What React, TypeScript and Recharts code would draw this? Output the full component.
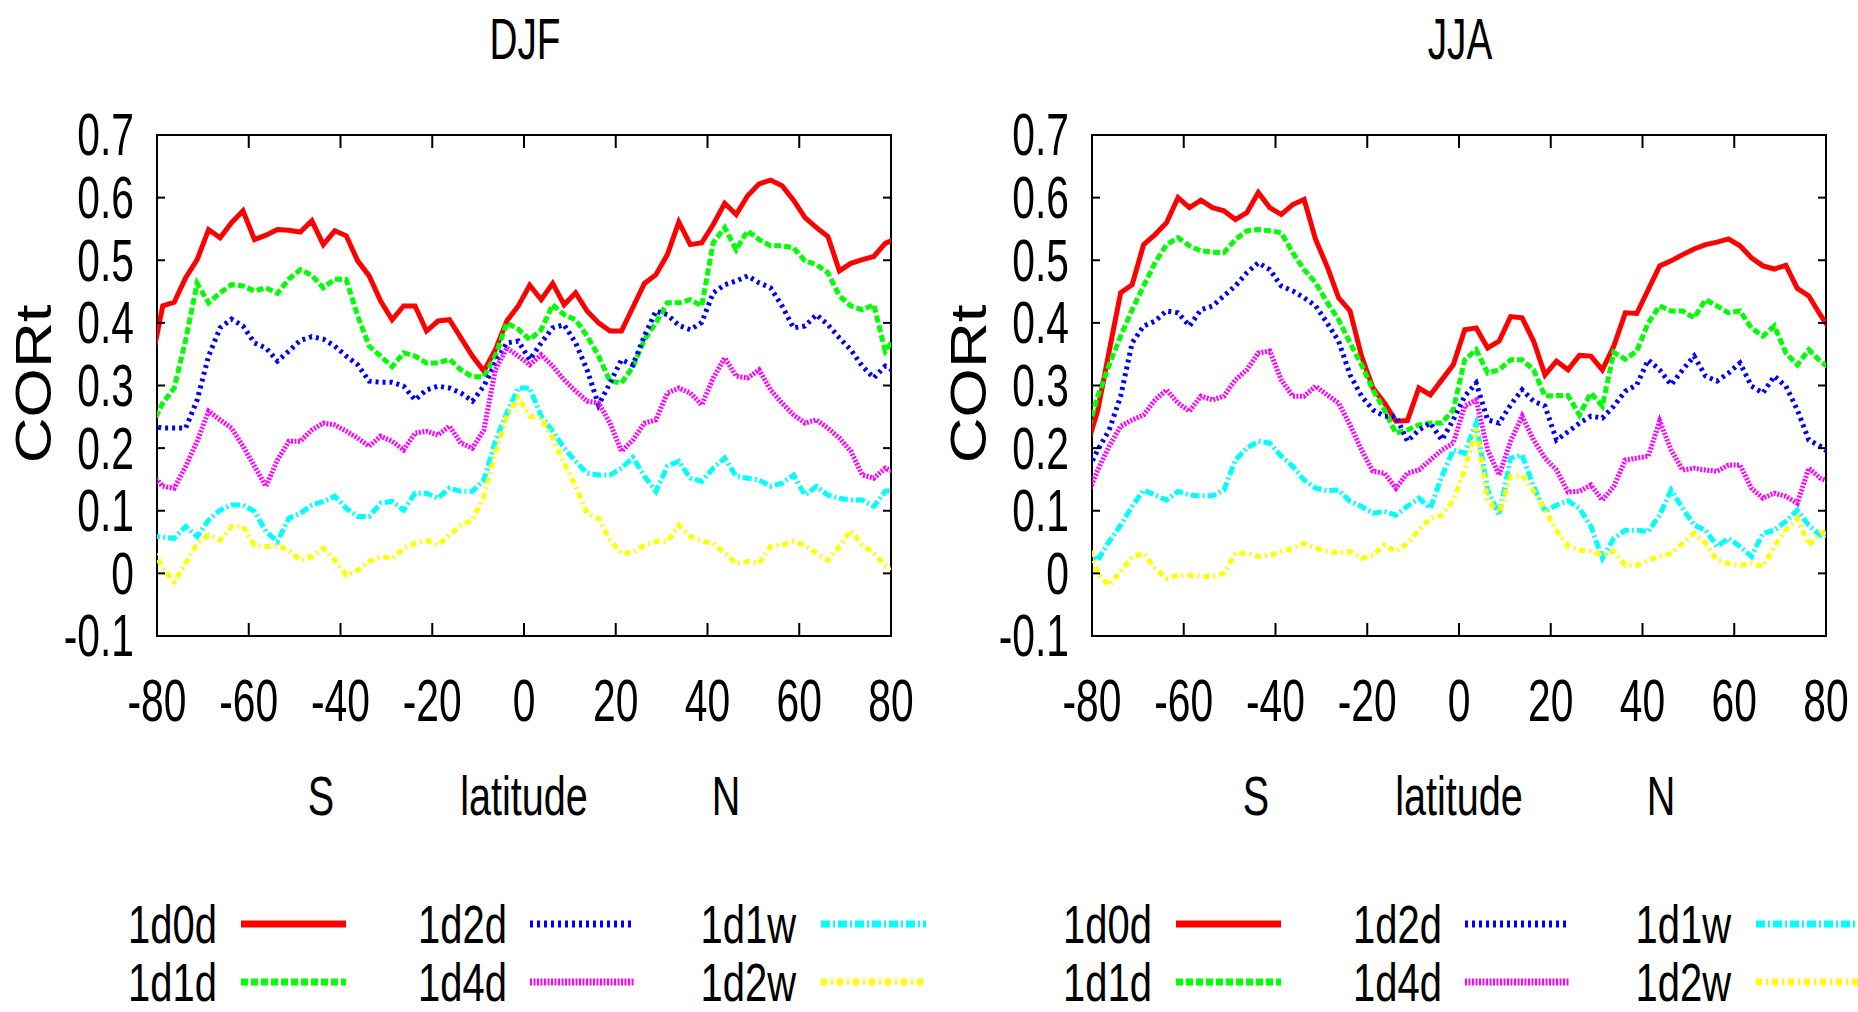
import React from 'react';
import { LineChart, Line, XAxis, YAxis, ReferenceArea } from 'recharts';

// latitude grid of the data (2.5 deg, the end points fall outside the frame and get clipped)
const lats = [
  -81.25, -78.75, -76.25, -73.75, -71.25, -68.75, -66.25, -63.75, -61.25, -58.75, -56.25,
  -53.75, -51.25, -48.75, -46.25, -43.75, -41.25, -38.75, -36.25, -33.75, -31.25, -28.75,
  -26.25, -23.75, -21.25, -18.75, -16.25, -13.75, -11.25, -8.75, -6.25, -3.75, -1.25,
  1.25, 3.75, 6.25, 8.75, 11.25, 13.75, 16.25, 18.75, 21.25, 23.75, 26.25, 28.75, 31.25,
  33.75, 36.25, 38.75, 41.25, 43.75, 46.25, 48.75, 51.25, 53.75, 56.25, 58.75, 61.25,
  63.75, 66.25, 68.75, 71.25, 73.75, 76.25, 78.75, 81.25,
];

const xTicks = [-80, -60, -40, -20, 0, 20, 40, 60, 80];
const yTicks = [-0.1, 0, 0.1, 0.2, 0.3, 0.4, 0.5, 0.6, 0.7];

// DJF
const djf1d0d = [
  0.335, 0.427, 0.433, 0.472, 0.501, 0.549, 0.536, 0.56, 0.579, 0.533, 0.54,
  0.549, 0.548, 0.545, 0.563, 0.525, 0.547, 0.539, 0.499, 0.475, 0.435, 0.405,
  0.427, 0.427, 0.387, 0.403, 0.405, 0.376, 0.347, 0.323, 0.357, 0.403, 0.427,
  0.46, 0.437, 0.463, 0.429, 0.448, 0.419, 0.4, 0.387, 0.387, 0.425, 0.463, 0.477, 0.509,
  0.561, 0.525, 0.528, 0.557, 0.591, 0.573, 0.603, 0.622, 0.628, 0.619, 0.596, 0.568,
  0.552, 0.538, 0.483, 0.495, 0.501, 0.506, 0.527, 0.535,
];
const djf1d1d = [
  0.235, 0.272, 0.296, 0.373, 0.463, 0.432, 0.448, 0.461, 0.459, 0.451, 0.456,
  0.447, 0.47, 0.485, 0.476, 0.456, 0.47, 0.469, 0.411, 0.363, 0.347, 0.33,
  0.352, 0.347, 0.336, 0.336, 0.342, 0.325, 0.314, 0.314, 0.347, 0.4, 0.39,
  0.373, 0.389, 0.429, 0.413, 0.405, 0.379, 0.347, 0.307, 0.304, 0.33, 0.373, 0.4, 0.432,
  0.432, 0.437, 0.427, 0.528, 0.552, 0.517, 0.547, 0.533, 0.523, 0.523, 0.52, 0.499,
  0.493, 0.48, 0.443, 0.427, 0.421, 0.429, 0.355, 0.38,
];
const djf1d2d = [
  0.235, 0.232, 0.232, 0.232, 0.277, 0.347, 0.392, 0.406, 0.395, 0.368, 0.36,
  0.339, 0.355, 0.372, 0.378, 0.374, 0.363, 0.347, 0.333, 0.307, 0.305, 0.305,
  0.299, 0.277, 0.293, 0.299, 0.296, 0.288, 0.275, 0.299, 0.336, 0.368, 0.371,
  0.341, 0.368, 0.392, 0.397, 0.368, 0.325, 0.269, 0.304, 0.341, 0.333, 0.379, 0.419, 0.413,
  0.396, 0.389, 0.401, 0.448, 0.461, 0.467, 0.475, 0.464, 0.456, 0.427, 0.392, 0.395,
  0.413, 0.397, 0.376, 0.357, 0.331, 0.312, 0.331, 0.32,
];
const djf1d4d = [
  0.16, 0.139, 0.136, 0.171, 0.211, 0.259, 0.245, 0.232, 0.203, 0.171, 0.139,
  0.181, 0.211, 0.211, 0.229, 0.24, 0.237, 0.227, 0.216, 0.203, 0.219, 0.211,
  0.197, 0.224, 0.227, 0.221, 0.235, 0.208, 0.2, 0.229, 0.325, 0.36, 0.347,
  0.333, 0.349, 0.331, 0.309, 0.291, 0.275, 0.272, 0.24, 0.195, 0.213, 0.24, 0.245, 0.288,
  0.296, 0.288, 0.269, 0.312, 0.344, 0.315, 0.312, 0.325, 0.293, 0.272, 0.253, 0.24,
  0.245, 0.232, 0.216, 0.195, 0.157, 0.152, 0.168, 0.16,
];
const djf1d1w = [
  0.06, 0.058, 0.056, 0.075, 0.059, 0.085, 0.101, 0.109, 0.109, 0.099, 0.067,
  0.051, 0.088, 0.096, 0.109, 0.115, 0.123, 0.104, 0.091, 0.091, 0.112, 0.115,
  0.101, 0.128, 0.128, 0.12, 0.136, 0.131, 0.131, 0.149, 0.211, 0.256, 0.296,
  0.296, 0.251, 0.227, 0.2, 0.179, 0.16, 0.157, 0.157, 0.168, 0.185, 0.155, 0.131, 0.171,
  0.179, 0.152, 0.147, 0.168, 0.184, 0.155, 0.152, 0.149, 0.139, 0.144, 0.157, 0.125,
  0.139, 0.125, 0.12, 0.117, 0.117, 0.107, 0.131, 0.135,
];
const djf1d2w = [
  0.045, 0.008, -0.013, 0.016, 0.048, 0.061, 0.053, 0.075, 0.075, 0.045, 0.043,
  0.044, 0.037, 0.021, 0.027, 0.04, 0.021, -0.003, 0.005, 0.019, 0.027, 0.024,
  0.04, 0.048, 0.053, 0.045, 0.061, 0.077, 0.085, 0.123, 0.192, 0.251, 0.28,
  0.251, 0.248, 0.216, 0.176, 0.139, 0.096, 0.088, 0.053, 0.032, 0.033, 0.045, 0.051, 0.051,
  0.077, 0.059, 0.051, 0.048, 0.032, 0.016, 0.019, 0.016, 0.043, 0.045, 0.051, 0.045,
  0.032, 0.021, 0.043, 0.069, 0.045, 0.032, 0.013, 0.005,
];

// JJA
const jja1d0d = [
  0.2, 0.26, 0.355, 0.448, 0.461, 0.525, 0.541, 0.56, 0.6, 0.584, 0.596,
  0.584, 0.579, 0.565, 0.576, 0.608, 0.584, 0.573, 0.589, 0.597, 0.533, 0.49,
  0.44, 0.419, 0.347, 0.296, 0.272, 0.243, 0.244, 0.296, 0.285, 0.309, 0.333,
  0.389, 0.392, 0.36, 0.371, 0.41, 0.408, 0.371, 0.317, 0.339, 0.325, 0.348, 0.347, 0.325,
  0.363, 0.416, 0.415, 0.453, 0.491, 0.499, 0.509, 0.518, 0.525, 0.529, 0.534, 0.523,
  0.504, 0.491, 0.486, 0.492, 0.455, 0.443, 0.413, 0.385,
];
const jja1d1d = [
  0.22, 0.283, 0.333, 0.379, 0.421, 0.459, 0.496, 0.525, 0.536, 0.523, 0.515,
  0.513, 0.512, 0.533, 0.547, 0.549, 0.547, 0.544, 0.512, 0.485, 0.464, 0.433,
  0.405, 0.368, 0.333, 0.293, 0.261, 0.224, 0.229, 0.237, 0.24, 0.24, 0.261,
  0.341, 0.357, 0.32, 0.325, 0.341, 0.341, 0.325, 0.283, 0.284, 0.284, 0.253, 0.288, 0.267,
  0.353, 0.342, 0.355, 0.4, 0.427, 0.419, 0.419, 0.408, 0.437, 0.427, 0.416, 0.419,
  0.392, 0.379, 0.395, 0.352, 0.333, 0.357, 0.339, 0.325,
];
const jja1d2d = [
  0.16, 0.197, 0.229, 0.283, 0.368, 0.395, 0.403, 0.419, 0.416, 0.395, 0.421,
  0.427, 0.443, 0.459, 0.48, 0.496, 0.485, 0.459, 0.451, 0.44, 0.427, 0.4,
  0.371, 0.317, 0.283, 0.261, 0.251, 0.251, 0.211, 0.229, 0.24, 0.213, 0.245,
  0.283, 0.304, 0.245, 0.24, 0.269, 0.293, 0.275, 0.267, 0.213, 0.226, 0.24, 0.251, 0.248,
  0.267, 0.291, 0.301, 0.341, 0.325, 0.301, 0.325, 0.347, 0.315, 0.307, 0.32, 0.336,
  0.299, 0.288, 0.315, 0.299, 0.261, 0.213, 0.203, 0.19,
];
const jja1d4d = [
  0.12, 0.165, 0.203, 0.235, 0.245, 0.253, 0.277, 0.293, 0.272, 0.259, 0.283,
  0.277, 0.283, 0.309, 0.325, 0.352, 0.355, 0.309, 0.283, 0.283, 0.299, 0.285,
  0.272, 0.237, 0.197, 0.163, 0.16, 0.136, 0.16, 0.165, 0.181, 0.197, 0.208,
  0.267, 0.277, 0.197, 0.157, 0.211, 0.251, 0.213, 0.184, 0.165, 0.13, 0.131, 0.141, 0.117,
  0.139, 0.181, 0.184, 0.187, 0.243, 0.197, 0.165, 0.168, 0.165, 0.163, 0.173, 0.173,
  0.136, 0.12, 0.128, 0.123, 0.112, 0.168, 0.152, 0.145,
];
const jja1d1w = [
  0.04, 0.021, 0.051, 0.077, 0.107, 0.133, 0.125, 0.117, 0.131, 0.125, 0.124,
  0.124, 0.133, 0.181, 0.2, 0.211, 0.208, 0.187, 0.171, 0.149, 0.136, 0.132,
  0.133, 0.115, 0.107, 0.096, 0.099, 0.093, 0.107, 0.12, 0.104, 0.155, 0.197,
  0.192, 0.24, 0.133, 0.093, 0.184, 0.189, 0.139, 0.099, 0.109, 0.116, 0.104, 0.075, 0.024,
  0.056, 0.069, 0.069, 0.067, 0.093, 0.133, 0.104, 0.077, 0.069, 0.043, 0.056, 0.043,
  0.027, 0.064, 0.069, 0.083, 0.101, 0.077, 0.061, 0.06,
];
const jja1d2w = [
  0.06, 0.0, -0.019, 0.003, 0.027, 0.032, 0.008, -0.008, -0.003, -0.003, -0.005,
  -0.005, 0.0, 0.032, 0.032, 0.027, 0.029, 0.035, 0.04, 0.048, 0.04, 0.036,
  0.032, 0.035, 0.024, 0.029, 0.045, 0.035, 0.048, 0.069, 0.088, 0.093, 0.117,
  0.165, 0.232, 0.117, 0.096, 0.155, 0.157, 0.131, 0.101, 0.069, 0.044, 0.037, 0.035, 0.029,
  0.035, 0.013, 0.013, 0.021, 0.027, 0.032, 0.048, 0.064, 0.048, 0.021, 0.016, 0.013,
  0.016, 0.011, 0.043, 0.069, 0.088, 0.045, 0.064, 0.07,
];

const SERIES = [
  { key: '1d0d', color: '#ff0000', dash: undefined },
  { key: '1d1d', color: '#00ff00', dash: '7 3' },
  { key: '1d2d', color: '#0000ff', dash: '3 4' },
  { key: '1d4d', color: '#ff00ff', dash: '2 1.5' },
  { key: '1d1w', color: '#00ffff', dash: '9 3 2 3' },
  { key: '1d2w', color: '#ffff00', dash: '6 4 2 4' },
];

// legend is laid out in three columns of two
const LEGEND_COLS = [['1d0d', '1d1d'], ['1d2d', '1d4d'], ['1d1w', '1d2w']];

const FONT = '"Liberation Sans", Arial, Helvetica, sans-serif';

const buildRows = (cols: number[][]) =>
  lats.map((lat, i) => {
    const row: Record<string, number> = { lat };
    SERIES.forEach((s, j) => {
      row[s.key] = cols[j][i];
    });
    return row;
  });

const djfData = buildRows([djf1d0d, djf1d1d, djf1d2d, djf1d4d, djf1d1w, djf1d2w]);
const jjaData = buildRows([jja1d0d, jja1d1d, jja1d2d, jja1d4d, jja1d1w, jja1d2w]);

// narrow, tall text like the original gnuplot output
function CText({ x, y, children, anchor = 'middle', size = 56, sx = 0.7 }: any) {
  return (
    <text
      transform={`translate(${x},${y}) scale(${sx},1)`}
      textAnchor={anchor}
      dominantBaseline="central"
      fontSize={size}
      fontFamily={FONT}
      fill="#000"
    >
      {children}
    </text>
  );
}

const CHART_W = 929;
const CHART_H = 1012;
const PLOT_L = 157;
const PLOT_R = 891;
const PLOT_T = 135;
const PLOT_B = 636;

function Panel({ data, ox }: { data: any[]; ox: number }) {
  const yTick = (p: any) => (
    <g>
      <line x1={PLOT_L} x2={PLOT_L + 8} y1={p.y} y2={p.y} stroke="#000" strokeWidth={2} />
      <line x1={PLOT_R - 8} x2={PLOT_R} y1={p.y} y2={p.y} stroke="#000" strokeWidth={2} />
      <CText x={PLOT_L - 23} y={p.y} anchor="end" size={60} sx={0.68}>
        {String(Math.round(p.payload.value * 10) / 10)}
      </CText>
    </g>
  );
  const xTick = (p: any) => (
    <g>
      <line x1={p.x} x2={p.x} y1={PLOT_B} y2={PLOT_B - 13} stroke="#000" strokeWidth={2} />
      <line x1={p.x} x2={p.x} y1={PLOT_T} y2={PLOT_T + 13} stroke="#000" strokeWidth={2} />
      <CText x={p.x} y={701} size={60} sx={0.68}>
        {String(p.payload.value)}
      </CText>
    </g>
  );

  return (
    <div style={{ position: 'absolute', left: ox, top: 0 }}>
      <LineChart
        width={CHART_W}
        height={CHART_H}
        data={data}
        margin={{ top: PLOT_T, right: CHART_W - PLOT_R, bottom: CHART_H - PLOT_B - 100, left: PLOT_L - 140 }}
      >
        <XAxis
          dataKey="lat"
          type="number"
          domain={[-80, 80]}
          ticks={xTicks}
          interval={0}
          allowDataOverflow
          height={100}
          axisLine={false}
          tickLine={false}
          tick={xTick}
        />
        <YAxis
          type="number"
          domain={[-0.1, 0.7]}
          ticks={yTicks}
          interval={0}
          allowDataOverflow
          width={140}
          axisLine={false}
          tickLine={false}
          tick={yTick}
        />
        {SERIES.map((s) => (
          <Line
            key={s.key}
            dataKey={s.key}
            type="linear"
            stroke={s.color}
            strokeWidth={5}
            strokeDasharray={s.dash}
            dot={false}
            activeDot={false}
            isAnimationActive={false}
          />
        ))}
        <ReferenceArea x1={-80} x2={80} y1={-0.1} y2={0.7} fill="none" stroke="#000" strokeWidth={2} />
      </LineChart>
    </div>
  );
}

function Labels({ ox, title }: { ox: number; title: string }) {
  return (
    <g>
      <CText x={525 + ox} y={39} size={57} sx={0.68}>{title}</CText>
      <text
        transform={`translate(${34 + ox},384) rotate(-90) scale(1.27,1)`}
        textAnchor="middle"
        dominantBaseline="central"
        fontSize={50}
        fontFamily={FONT}
      >
        CORt
      </text>
      <CText x={321 + ox} y={796} size={55} sx={0.72}>S</CText>
      <CText x={524 + ox} y={796} size={55} sx={0.72}>latitude</CText>
      <CText x={726 + ox} y={796} size={55} sx={0.72}>N</CText>
      {LEGEND_COLS.map((col, ci) =>
        col.map((key, ri) => {
          const s = SERIES.find((d) => d.key === key)!;
          const textRight = [217, 507, 796][ci] + ox;
          const lineX = [241, 530, 821][ci] + ox;
          const y = ri === 0 ? 924 : 982;
          return (
            <g key={key}>
              <CText x={textRight} y={y} anchor="end" size={54} sx={0.74}>{key}</CText>
              <line
                x1={lineX}
                x2={lineX + 105}
                y1={y}
                y2={y}
                stroke={s.color}
                strokeWidth={7}
                strokeDasharray={s.dash}
              />
            </g>
          );
        })
      )}
    </g>
  );
}

export default function App() {
  return (
    <div
      style={{
        position: 'absolute',
        left: 0,
        top: 0,
        width: 1858,
        height: 1012,
        overflow: 'hidden',
        background: '#fff',
      }}
    >
      <Panel data={djfData} ox={0} />
      <Panel data={jjaData} ox={935} />
      <svg
        width={1858}
        height={1012}
        style={{ position: 'absolute', left: 0, top: 0, pointerEvents: 'none' }}
      >
        <Labels ox={0} title="DJF" />
        <Labels ox={935} title="JJA" />
      </svg>
    </div>
  );
}
